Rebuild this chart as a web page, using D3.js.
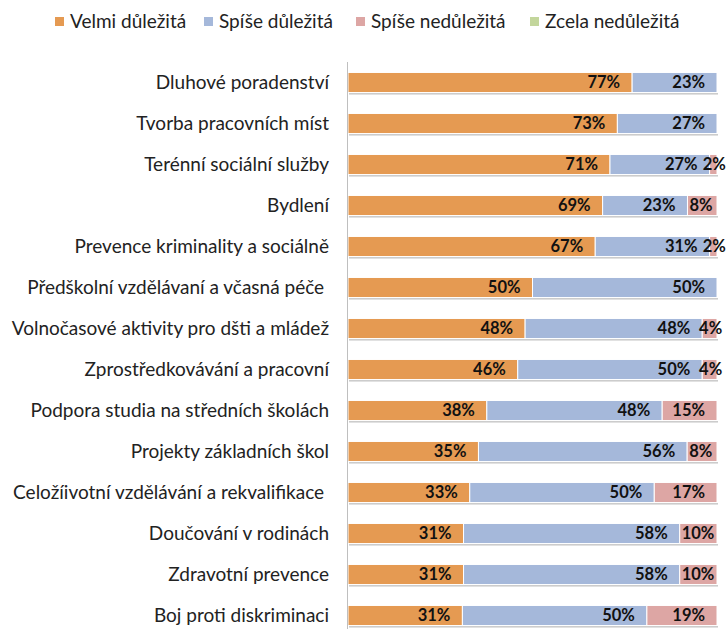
<!DOCTYPE html>
<html>
<head>
<meta charset="utf-8">
<script src="https://cdnjs.cloudflare.com/ajax/libs/d3/7.8.5/d3.min.js"></script>
<style>
body { margin: 0; background: #fff; }
svg { font-family: Lato, "Open Sans", sans-serif; }
</style>
</head>
<body>
<div id="chart"></div>
<script>
var categories = ["Dluhové poradenství", "Tvorba pracovních míst", "Terénní sociální služby", "Bydlení",
  "Prevence kriminality a sociálně", "Předškolní vzdělávaní a včasná péče ", "Volnočasové aktivity pro dšti a mládež",
  "Zprostředkovávání a pracovní", "Podpora studia na středních školách", "Projekty základních škol",
  "Celožíivotní vzdělávání a rekvalifikace ", "Doučování v rodinách", "Zdravotní prevence", "Boj proti diskriminaci"];
var seriesNames = ["Velmi důležitá", "Spíše důležitá", "Spíše nedůležitá", "Zcela nedůležitá"];
var velmi = [77, 73, 71, 69, 67, 50, 48, 46, 38, 35, 33, 31, 31, 31];
var spise = [23, 27, 27, 23, 31, 50, 48, 50, 48, 56, 50, 58, 58, 50];
var spiseNe = [0, 0, 2, 8, 2, 0, 4, 4, 15, 8, 17, 10, 10, 19];
var zcelaNe = [0, 0, 0, 0, 0, 0, 0, 0, 0, 0, 0, 0, 0, 0];
var colors = ["#E59A52", "#A5B8DA", "#DDA6A4", "#C3D69C"];

var width = 728, height = 629;
var svg = d3.select("#chart").append("svg").attr("width", width).attr("height", height);

var rows = categories.map(function(c, i){
  return {cat: c, s0: velmi[i], s1: spise[i], s2: spiseNe[i], s3: zcelaNe[i]};
});
var keys = ["s0", "s1", "s2", "s3"];
var stack = d3.stack().keys(keys).offset(d3.stackOffsetExpand);
var layers = stack(rows);

var x = d3.scaleLinear().domain([0, 1]).range([348, 717]);
var y = d3.scaleBand().domain(categories).range([62, 636]).paddingInner(0.51).paddingOuter(0.255);

// shadows under bars
svg.append("g").selectAll("rect").data(rows).enter().append("rect")
  .attr("x", x(0) + 1)
  .attr("y", function(d){ return y(d.cat) + y.bandwidth() + 0.5; })
  .attr("width", x(1) - x(0))
  .attr("height", 1.5)
  .attr("fill", "#c8c8c8");

var g = svg.append("g").selectAll("g").data(layers).enter().append("g")
  .attr("fill", function(d, i){ return colors[i]; });

g.selectAll("rect").data(function(d){ return d; }).enter().append("rect")
  .attr("x", function(d){ return x(d[0]); })
  .attr("y", function(d){ return y(d.data.cat); })
  .attr("width", function(d){ return Math.max(0, x(d[1]) - x(d[0])); })
  .attr("height", y.bandwidth())
  .attr("stroke", "#fff")
  .attr("stroke-width", 1);

// value labels: inside end, small segments centred, pushed left when they collide
var labelG = svg.append("g");
rows.forEach(function(r, ri){
  var items = [];
  layers.forEach(function(layer){
    var d = layer[ri];
    var v = r[layer.key];
    if (v > 0) items.push({v: v, x0: x(d[0]), x1: x(d[1])});
  });
  items.forEach(function(it){
    it.t = labelG.append("text")
      .attr("y", y(r.cat) + y.bandwidth() / 2)
      .attr("dy", "0.36em")
      .attr("font-size", "16.5px")
      .attr("font-weight", "bold")
      .attr("fill", "#111")
      .text(it.v + "%");
    it.w = it.t.node().getComputedTextLength();
  });
  var limit = Infinity;
  for (var k = items.length - 1; k >= 0; k--) {
    var it = items[k];
    var right;
    if (it.v < 5) right = (it.x0 + it.x1) / 2 + it.w / 2 + 1;
    else right = Math.min(it.x1 - 2, Math.max(it.x1 - 12, it.x0 + 2 + it.w));
    if (right > limit - 4) right = limit - 4;
    it.t.attr("x", right - it.w);
    limit = right - it.w;
  }
});

// axis line
svg.append("line").attr("x1", 347.5).attr("x2", 347.5).attr("y1", 62).attr("y2", 629)
  .attr("stroke", "#bfbfbf").attr("stroke-width", 1);

// category labels
svg.append("g").selectAll("text").data(categories).enter().append("text")
  .attr("x", 329)
  .attr("y", function(d){ return y(d) + y.bandwidth() / 2; })
  .attr("dy", "0.36em")
  .attr("text-anchor", "end")
  .attr("font-size", "19px")
  .attr("fill", "#222")
  .style("white-space", "pre")
  .text(function(d){ return d; });

// legend
var legendX = [55, 204, 356, 530];
var legend = svg.append("g").selectAll("g").data(seriesNames).enter().append("g")
  .attr("transform", function(d, i){ return "translate(" + legendX[i] + ",17)"; });
legend.append("rect").attr("width", 9).attr("height", 9)
  .attr("fill", function(d, i){ return colors[i]; });
legend.append("text").attr("x", 15).attr("y", 4.5).attr("dy", "0.36em")
  .attr("font-size", "19px").attr("fill", "#222")
  .text(function(d){ return d; });
</script>
</body>
</html>
